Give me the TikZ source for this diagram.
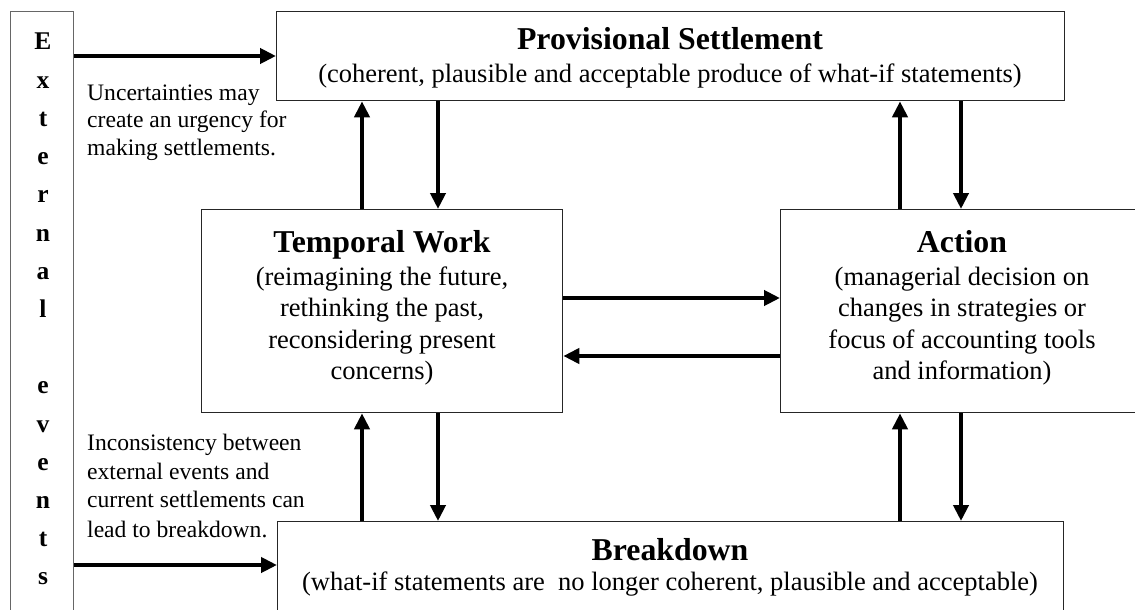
\documentclass[tikz,border=0pt]{standalone}
\usepackage{fontspec}
\setmainfont{Liberation Serif}
\usetikzlibrary{arrows.meta}
\begin{document}
\begin{tikzpicture}[x=1pt,y=-1pt,
 box/.style={draw=black!85,line width=1.3pt,rectangle,inner sep=0pt,anchor=north west},
 extbox/.style={draw=black!60,line width=1.3pt,rectangle,inner sep=0pt,anchor=north west},
 arr/.style={line width=4pt,-{Triangle[length=16pt,width=15pt]}},
 ttl/.style={font=\fontsize{31.8}{36}\selectfont\bfseries,anchor=base,inner sep=0pt},
 body/.style={font=\fontsize{26.5}{31}\selectfont,anchor=base,inner sep=0pt},
 note/.style={font=\fontsize{23.6}{28}\selectfont,anchor=base west,inner sep=0pt},
 letter/.style={font=\fontsize{25.5}{30}\selectfont\bfseries,anchor=base,inner sep=0pt}]
\useasboundingbox (0,0) rectangle (1135,610);
\clip (0,0) rectangle (1135,610);
\fill[white] (0,0) rectangle (1135,610);

% boxes
\node[extbox,minimum width=63.5pt,minimum height=620pt] (ext) at (9.5,11) {};
\node[box,minimum width=788pt,minimum height=89pt] (prov) at (276,11) {};
\node[box,minimum width=361pt,minimum height=203pt] (temporal) at (201,209) {};
\node[box,minimum width=364pt,minimum height=203pt] (action) at (780,209) {};
\node[box,minimum width=786pt,minimum height=120pt] (breakdown) at (277,521) {};

% left column letters
\foreach \c/\k in {E/0,x/1,t/2,e/3,r/4,n/5,a/6,l/7,e/9,v/10,e/11,n/12,t/13,s/14}
  \node[letter] (ext\k) at (43,50+38.2*\k) {\c};

% texts
\node[ttl] (provT) at (670,49) {Provisional Settlement};
\node[body] (provS) at (670,82) {(coherent, plausible and acceptable produce of what-if statements)};

\node[ttl] (tempT) at (382,252) {Temporal Work};
\node[body] (temp1) at (382,285) {(reimagining the future,};
\node[body] (temp2) at (382,316.5) {rethinking the past,};
\node[body] (temp3) at (382,348) {reconsidering present};
\node[body] (temp4) at (382,379.5) {concerns)};

\node[ttl] (actT) at (962,252) {Action};
\node[body] (act1) at (962,285) {(managerial decision on};
\node[body] (act2) at (962,316.5) {changes in strategies or};
\node[body] (act3) at (962,348) {focus of accounting tools};
\node[body] (act4) at (962,379.5) {and information)};

\node[ttl] (brkT) at (670,560) {Breakdown};
\node[body] (brkS) at (670,590) {(what-if statements are \ no longer coherent, plausible and acceptable)};

\node[note] (n1a) at (87,100) {Uncertainties may};
\node[note] (n1b) at (87,127.5) {create an urgency for};
\node[note] (n1c) at (87,155) {making settlements.};

\node[note] (n2a) at (87,450) {Inconsistency between};
\node[note] (n2b) at (87,479) {external events and};
\node[note] (n2c) at (87,507.5) {current settlements can};
\node[note] (n2d) at (87,537) {lead to breakdown.};

% helper coordinates
\coordinate (xa) at (362,0);
\coordinate (xb) at (438,0);
\coordinate (xc) at (900,0);
\coordinate (xd) at (961,0);
\coordinate (ya) at (0,56);
\coordinate (yb) at (0,565);
\coordinate (yc) at (0,298);
\coordinate (yd) at (0,356);

% connectors
\draw[arr] (temporal.north -| xa) -- (prov.south -| xa);
\draw[arr] (prov.south -| xb) -- (temporal.north -| xb);
\draw[arr] (action.north -| xc) -- (prov.south -| xc);
\draw[arr] (prov.south -| xd) -- (action.north -| xd);
\draw[arr] (breakdown.north -| xa) -- (temporal.south -| xa);
\draw[arr] (temporal.south -| xb) -- (breakdown.north -| xb);
\draw[arr] (breakdown.north -| xc) -- (action.south -| xc);
\draw[arr] (action.south -| xd) -- (breakdown.north -| xd);
\draw[arr] (temporal.east |- yc) -- (action.west |- yc);
\draw[arr] (action.west |- yd) -- (temporal.east |- yd);
\draw[arr] (ext.east |- ya) -- (prov.west |- ya);
\draw[arr] (ext.east |- yb) -- (breakdown.west |- yb);
\end{tikzpicture}
\end{document}
